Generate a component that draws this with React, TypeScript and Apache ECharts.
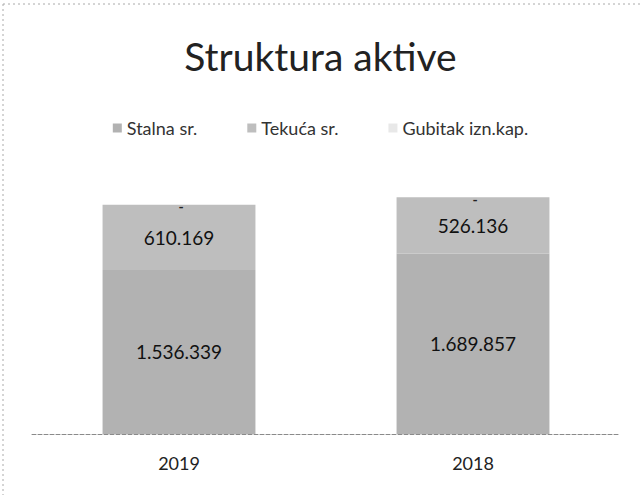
import React, { useEffect, useRef } from "react";
import * as echarts from "echarts";

const categories = ["2019", "2018"];
const stalnaSr = [1536339, 1689857];
const tekucaSr = [610169, 526136];
const gubitak = [0, 0];
const legendNames = ["Stalna sr.", "Tekuća sr.", "Gubitak izn.kap."];

const fmt = (v: number) => String(Math.round(v)).replace(/\B(?=(\d{3})+(?!\d))/g, ".");

export default function App() {
  const ref = useRef<HTMLDivElement>(null);
  useEffect(() => {
    const chart = echarts.init(ref.current!, null, { renderer: "svg" });
    const font = "Lato, 'Open Sans', sans-serif";
    const labelStyle = {
      show: true,
      position: "inside" as const,
      color: "#111",
      fontSize: 19,
      fontFamily: font,
      formatter: (p: any) => fmt(p.value),
    };
    chart.setOption({
      animation: false,
      backgroundColor: "#ffffff",
      title: {
        text: "Struktura aktive",
        left: "center",
        top: 31,
        textStyle: { fontFamily: font, fontSize: 39, fontWeight: "normal", color: "#222" },
      },
      legend: {
        top: 114,
        left: "center",
        itemWidth: 9,
        itemHeight: 9,
        itemGap: 50,
        icon: "rect",
        textStyle: { fontFamily: font, fontSize: 18, color: "#333" },
        data: legendNames,
      },
      grid: { left: 32, right: 21, top: 167, bottom: 61 },
      xAxis: {
        type: "category",
        data: categories,
        axisTick: { show: false },
        axisLine: { lineStyle: { color: "#8a8a8a", type: "dashed", width: 1 } },
        axisLabel: { fontFamily: font, fontSize: 18, color: "#222", margin: 20 },
      },
      yAxis: {
        type: "value",
        min: 0,
        max: 2500000,
        interval: 500000,
        show: false,
        splitLine: { show: false },
      },
      series: [
        {
          name: legendNames[0],
          type: "bar",
          stack: "a",
          data: stalnaSr,
          barCategoryGap: "48%",
          itemStyle: { color: "#b2b2b2" },
          label: labelStyle,
        },
        {
          name: legendNames[1],
          type: "bar",
          stack: "a",
          data: tekucaSr,
          itemStyle: { color: "#bebebe" },
          label: labelStyle,
        },
        {
          name: legendNames[2],
          type: "bar",
          stack: "a",
          data: gubitak,
          itemStyle: { color: "#e8e8e8" },
          label: {
            show: true,
            position: "inside",
            offset: [2, 2],
            color: "#222",
            fontSize: 14,
            fontWeight: "bold",
            fontFamily: font,
            formatter: () => "-",
          },
        },
      ],
      graphic: [
        {
          type: "line",
          shape: { x1: 3, y1: 4, x2: 641, y2: 4 },
          style: { stroke: "#aaa", lineWidth: 1, lineDash: [2, 3] },
        },
        {
          type: "line",
          shape: { x1: 3, y1: 4, x2: 3, y2: 495 },
          style: { stroke: "#aaa", lineWidth: 1, lineDash: [2, 3] },
        },
      ],
    });
    return () => chart.dispose();
  }, []);
  return (
    <div
      ref={ref}
      style={{ position: "fixed", left: 0, top: 0, width: 641, height: 495 }}
    />
  );
}
